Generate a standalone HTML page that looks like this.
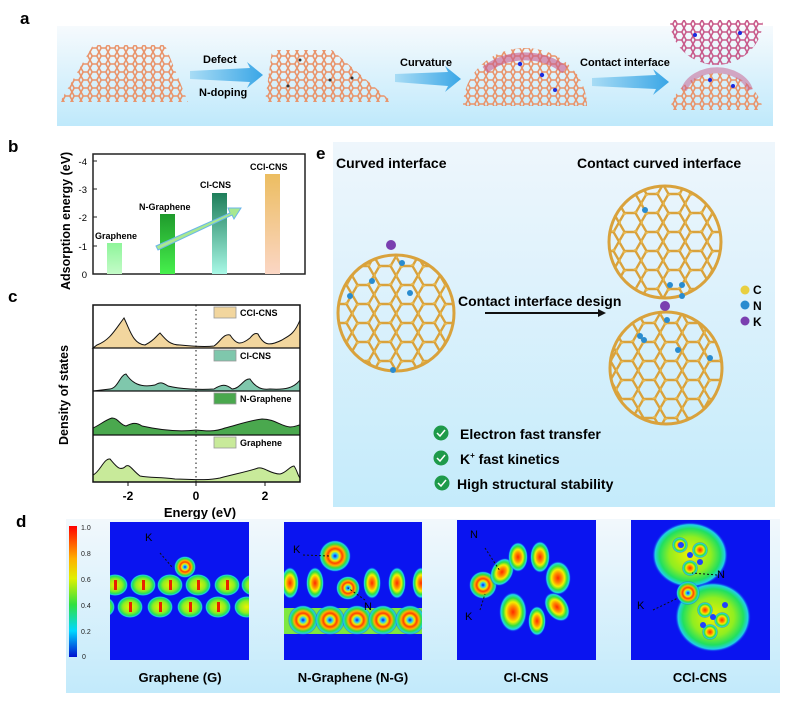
<!DOCTYPE html>
<html><head><meta charset="utf-8"><style>
html,body{margin:0;padding:0;background:#fff;}
svg{display:block;font-family:"Liberation Sans",Arial,sans-serif;}
</style></head><body>
<svg width="799" height="709" viewBox="0 0 799 709" xmlns="http://www.w3.org/2000/svg">
<defs>
<linearGradient id="bgA" x1="0" y1="0" x2="0" y2="1"><stop offset="0" stop-color="#f6fafd"/><stop offset="1" stop-color="#bfe9fb"/></linearGradient>
<linearGradient id="bgE" x1="0" y1="0" x2="0" y2="1"><stop offset="0" stop-color="#eef6fc"/><stop offset="1" stop-color="#c4ebfb"/></linearGradient>
<linearGradient id="bgD" x1="0" y1="0" x2="0" y2="1"><stop offset="0" stop-color="#f2f8fc"/><stop offset="1" stop-color="#c2eafb"/></linearGradient>
<linearGradient id="arr" x1="0" y1="0" x2="1" y2="0"><stop offset="0" stop-color="#a8dcf5"/><stop offset="1" stop-color="#3aa6e6"/></linearGradient>
<pattern id="hex" width="9" height="8" patternUnits="userSpaceOnUse"><path d="M0 4 L2.2 0 H6.8 L9 4 L6.8 8 H2.2 Z" fill="none" stroke="#e9936a" stroke-width="1.6"/></pattern>
<pattern id="hexm" width="9" height="8" patternUnits="userSpaceOnUse"><path d="M0 4 L2.2 0 H6.8 L9 4 L6.8 8 H2.2 Z" fill="none" stroke="#c85a8a" stroke-width="1.6"/></pattern>
<pattern id="ful" width="22" height="19" patternUnits="userSpaceOnUse"><path d="M0 9.5 L5.5 0 H16.5 L22 9.5 L16.5 19 H5.5 Z" fill="none" stroke="#d9a23c" stroke-width="2.4"/><circle cx="5.5" cy="0" r="2" fill="#e8b84e"/><circle cx="16.5" cy="19" r="2" fill="#e8b84e"/><circle cx="0" cy="9.5" r="2" fill="#e8b84e"/></pattern>
<radialGradient id="bl"><stop offset="0" stop-color="#ff2a00"/><stop offset="0.3" stop-color="#ff9000"/><stop offset="0.5" stop-color="#f4f000"/><stop offset="0.7" stop-color="#30e040"/><stop offset="0.87" stop-color="#20d8e8"/><stop offset="1" stop-color="#0a14f0" stop-opacity="0"/></radialGradient>
<radialGradient id="gr"><stop offset="0" stop-color="#f0f000"/><stop offset="0.55" stop-color="#90ee20"/><stop offset="0.8" stop-color="#20e060"/><stop offset="0.92" stop-color="#20d0e8"/><stop offset="1" stop-color="#0a14f0" stop-opacity="0"/></radialGradient>
<radialGradient id="rg"><stop offset="0" stop-color="#0a14f0"/><stop offset="0.15" stop-color="#20c8ff"/><stop offset="0.3" stop-color="#f0f000"/><stop offset="0.45" stop-color="#ff4000"/><stop offset="0.6" stop-color="#ffb000"/><stop offset="0.75" stop-color="#30e040"/><stop offset="0.9" stop-color="#20d0e8"/><stop offset="1" stop-color="#0a14f0" stop-opacity="0"/></radialGradient>
<linearGradient id="cb" x1="0" y1="0" x2="0" y2="1"><stop offset="0" stop-color="#ff0000"/><stop offset="0.25" stop-color="#ffb000"/><stop offset="0.4" stop-color="#e0f000"/><stop offset="0.6" stop-color="#30e040"/><stop offset="0.8" stop-color="#00d8ff"/><stop offset="1" stop-color="#0010d0"/></linearGradient>
<linearGradient id="b1" x1="0" y1="0" x2="0" y2="1"><stop offset="0" stop-color="#8ef59a"/><stop offset="1" stop-color="#c4fbc8"/></linearGradient>
<linearGradient id="b2" x1="0" y1="0" x2="0" y2="1"><stop offset="0" stop-color="#1f9a2c"/><stop offset="1" stop-color="#46f04c"/></linearGradient>
<linearGradient id="b3" x1="0" y1="0" x2="0" y2="1"><stop offset="0" stop-color="#1e7e5a"/><stop offset="1" stop-color="#a8f8e6"/></linearGradient>
<linearGradient id="b4" x1="0" y1="0" x2="0" y2="1"><stop offset="0" stop-color="#ecbd60"/><stop offset="1" stop-color="#fbd6c4"/></linearGradient>
<clipPath id="c1"><circle cx="396" cy="313" r="59"/></clipPath>
<clipPath id="c2"><circle cx="665" cy="242" r="57"/></clipPath>
<clipPath id="c3"><circle cx="666" cy="368" r="57"/></clipPath>
<clipPath id="i1"><rect x="110" y="522" width="139" height="138"/></clipPath>
<clipPath id="i2"><rect x="284" y="522" width="138" height="138"/></clipPath>
<clipPath id="i3"><rect x="457" y="520" width="139" height="140"/></clipPath>
<clipPath id="i4"><rect x="631" y="520" width="139" height="140"/></clipPath>
</defs>

<!-- panel a -->
<text x="20" y="24" font-size="17" font-weight="bold">a</text>
<rect x="57" y="26" width="716" height="100" fill="url(#bgA)"/>
<polygon points="93,45 165,45 188,102 60,102" fill="url(#hex)"/>
<polygon points="272,50 332,50 392,102 265,102" fill="url(#hex)"/>
<g fill="#333"><circle cx="300" cy="60" r="1.5"/><circle cx="330" cy="80" r="1.5"/><circle cx="288" cy="86" r="1.5"/><circle cx="352" cy="78" r="1.5"/></g>
<path d="M463,106 A62,58 0 0 1 587,106 Z" fill="url(#hex)"/>
<path d="M485,70 A62,58 0 0 1 565,70" fill="none" stroke="#c85a8a" stroke-width="8" opacity="0.6"/>
<path d="M670,20 L763,20 A47,45 0 0 1 716,65 A47,45 0 0 1 670,20 Z" fill="url(#hexm)"/>
<path d="M670,110 A47,43 0 0 1 763,110 Z" fill="url(#hex)"/>
<path d="M684,90 A34,26 0 0 1 750,90" fill="none" stroke="#c85a8a" stroke-width="6" opacity="0.5"/>
<g fill="#1a2ae0"><circle cx="520" cy="64" r="2.2"/><circle cx="542" cy="75" r="2.2"/><circle cx="555" cy="90" r="2"/><circle cx="695" cy="35" r="2"/><circle cx="740" cy="33" r="2"/><circle cx="710" cy="80" r="2"/><circle cx="733" cy="86" r="2"/></g>
<path d="M190,71 L250,68 L247,62 L263,75 L247,88 L250,82 L190,79 Z" fill="url(#arr)"/>
<path d="M395,74 L448,72 L445,66 L461,79 L445,92 L448,86 L395,82 Z" fill="url(#arr)"/>
<path d="M592,78 L656,75 L653,69 L669,82 L653,95 L656,89 L592,86 Z" fill="url(#arr)"/>
<text x="203" y="63" font-size="11" font-weight="bold">Defect</text>
<text x="199" y="96" font-size="11" font-weight="bold">N-doping</text>
<text x="400" y="66" font-size="11" font-weight="bold">Curvature</text>
<text x="580" y="66" font-size="11" font-weight="bold">Contact interface</text>

<!-- panel b -->
<text x="8" y="152" font-size="17" font-weight="bold">b</text>
<text transform="translate(70,290) rotate(-90)" font-size="12.5" font-weight="bold">Adsorption energy (eV)</text>
<rect x="93" y="154" width="212" height="120" fill="#fff" stroke="#222" stroke-width="1.5"/>
<g font-size="9.5" text-anchor="end">
<text x="87" y="278">0</text><text x="87" y="250">-1</text><text x="87" y="221">-2</text><text x="87" y="193">-3</text><text x="87" y="165">-4</text></g>
<g stroke="#222"><line x1="93" y1="246" x2="97" y2="246"/><line x1="93" y1="217" x2="97" y2="217"/><line x1="93" y1="189" x2="97" y2="189"/><line x1="93" y1="161" x2="97" y2="161"/></g>
<rect x="107" y="243" width="15" height="31" fill="url(#b1)"/>
<rect x="160" y="214" width="15" height="60" fill="url(#b2)"/>
<rect x="212" y="193" width="15" height="81" fill="url(#b3)"/>
<rect x="265" y="174" width="15" height="100" fill="url(#b4)"/>
<path d="M156,246 L230,213 L228,208 L241,208 L234,219 L232,215 L158,250 Z" fill="#a8e890" stroke="#6ab6ea" stroke-width="1"/>
<g font-size="9" font-weight="bold"><text x="95" y="239">Graphene</text><text x="139" y="210">N-Graphene</text><text x="200" y="188">Cl-CNS</text><text x="250" y="170">CCl-CNS</text></g>

<!-- panel c -->
<text x="8" y="302" font-size="17" font-weight="bold">c</text>
<text transform="translate(68,445) rotate(-90)" font-size="12.5" font-weight="bold">Density of states</text>
<g stroke="#111" stroke-width="1">
<path d="M93,348 L97,345 C110,340 115,330 124,318 C130,330 133,344 145,345 C155,340 156,336 160,333 C166,340 170,345 180,345 C190,346 205,347 214,346 C220,342 224,333 230,335 C236,344 240,346 250,338 C254,333 256,333 258,334 C264,346 270,346 282,340 C288,336 294,335 300,320 L300,348 Z" fill="#f2d69e"/>
<path d="M93,391 L110,389 C118,388 120,375 126,374 C132,383 140,388 155,385 C160,382 162,382 168,386 C180,389 200,390 214,389 C222,384 226,384 232,389 C240,389 244,378 250,379 C256,388 262,390 270,389 C285,390 294,388 300,380 L300,391 Z" fill="#7fc7ac"/>
<path d="M93,428 C100,425 105,420 112,418 C118,418 120,425 126,426 C132,423 136,422 142,426 C160,430 180,432 196,430 C205,431 215,432 225,428 C240,424 252,420 262,419 C275,419 280,426 290,427 C295,427 298,425 300,425 L300,435 L93,435 Z" fill="#4aa84e"/>
<path d="M93,475 C100,472 104,458 110,459 C116,466 120,472 126,466 C130,464 132,470 140,476 C150,478 160,477 175,479 C190,479 205,481 220,478 C235,474 250,471 258,468 C265,467 270,474 280,474 C286,473 290,466 294,466 C297,470 298,476 300,478 L300,482 L93,482 Z" fill="#c8ea9a"/>
</g>
<rect x="93" y="305" width="207" height="177" fill="none" stroke="#111" stroke-width="1.5"/>
<g stroke="#111" stroke-width="1.2"><line x1="93" y1="348" x2="300" y2="348"/><line x1="93" y1="391" x2="300" y2="391"/><line x1="93" y1="435" x2="300" y2="435"/></g>
<line x1="196" y1="305" x2="196" y2="482" stroke="#111" stroke-width="1" stroke-dasharray="1.5,3"/>
<g stroke-width="0.8" stroke="#999">
<rect x="214" y="307" width="22" height="11" fill="#f2d69e"/><rect x="214" y="350" width="22" height="11" fill="#7fc7ac"/><rect x="214" y="393" width="22" height="11" fill="#4aa84e"/><rect x="214" y="437" width="22" height="11" fill="#c8ea9a"/></g>
<g font-size="9" font-weight="bold"><text x="240" y="316">CCl-CNS</text><text x="240" y="359">Cl-CNS</text><text x="240" y="402">N-Graphene</text><text x="240" y="446">Graphene</text></g>
<g stroke="#111"><line x1="128" y1="482" x2="128" y2="486"/><line x1="196" y1="482" x2="196" y2="486"/><line x1="265" y1="482" x2="265" y2="486"/></g>
<g font-size="12" font-weight="bold" text-anchor="middle"><text x="128" y="500">-2</text><text x="196" y="500">0</text><text x="265" y="500">2</text><text x="200" y="517" font-size="13">Energy (eV)</text></g>

<!-- panel e -->
<text x="316" y="159" font-size="17" font-weight="bold">e</text>
<rect x="333" y="142" width="442" height="365" fill="url(#bgE)"/>
<text x="336" y="168" font-size="14" font-weight="bold">Curved interface</text>
<text x="577" y="168" font-size="14" font-weight="bold">Contact curved interface</text>
<g clip-path="url(#c1)"><rect x="330" y="250" width="140" height="130" fill="url(#ful)"/></g>
<circle cx="396" cy="313" r="58" fill="none" stroke="#d9a23c" stroke-width="3"/>
<g clip-path="url(#c2)"><rect x="600" y="180" width="130" height="125" fill="url(#ful)" transform="translate(3,4)"/></g>
<circle cx="665" cy="242" r="56" fill="none" stroke="#d9a23c" stroke-width="3"/>
<g clip-path="url(#c3)"><rect x="600" y="305" width="130" height="125" fill="url(#ful)"/></g>
<circle cx="666" cy="368" r="56" fill="none" stroke="#d9a23c" stroke-width="3"/>
<g fill="#2a8ccf"><circle cx="372" cy="281" r="3"/><circle cx="402" cy="263" r="3"/><circle cx="350" cy="296" r="3"/><circle cx="410" cy="293" r="3"/><circle cx="393" cy="370" r="3"/><circle cx="645" cy="210" r="3"/><circle cx="670" cy="285" r="3"/><circle cx="682" cy="285" r="3"/><circle cx="682" cy="296" r="3"/><circle cx="644" cy="340" r="3"/><circle cx="640" cy="336" r="3"/><circle cx="678" cy="350" r="3"/><circle cx="667" cy="320" r="3"/><circle cx="710" cy="358" r="3"/></g>
<circle cx="391" cy="245" r="5" fill="#7a3fb0"/>
<circle cx="665" cy="306" r="5" fill="#7a3fb0"/>
<text x="458" y="306" font-size="14" font-weight="bold">Contact interface design</text>
<line x1="485" y1="313" x2="600" y2="313" stroke="#111" stroke-width="2"/>
<polygon points="606,313 598,309 598,317" fill="#111"/>
<circle cx="745" cy="290" r="4.5" fill="#e8cf40"/><circle cx="745" cy="305" r="4.5" fill="#2a8ccf"/><circle cx="745" cy="321" r="4.5" fill="#7a3fb0"/>
<g font-size="12" font-weight="bold"><text x="753" y="294">C</text><text x="753" y="310">N</text><text x="753" y="326">K</text></g>
<g><circle cx="441" cy="433" r="7.5" fill="#1e9a4a"/><circle cx="441" cy="458" r="7.5" fill="#1e9a4a"/><circle cx="442" cy="483" r="7.5" fill="#1e9a4a"/></g>
<g fill="none" stroke="#fff" stroke-width="1.5"><path d="M437,433 l3,3 l5,-6"/><path d="M437,458 l3,3 l5,-6"/><path d="M438,483 l3,3 l5,-6"/></g>
<g font-size="14" font-weight="bold"><text x="460" y="439">Electron fast transfer</text><text x="460" y="464">K<tspan font-size="8" dy="-6">+</tspan><tspan dy="6"> fast  kinetics</tspan></text><text x="457" y="489">High structural stability</text></g>

<!-- panel d -->
<text x="16" y="527" font-size="17" font-weight="bold">d</text>
<rect x="66" y="519" width="714" height="174" fill="url(#bgD)"/>
<rect x="69" y="526" width="8" height="131" fill="url(#cb)"/>
<g font-size="7" fill="#222"><text x="81" y="530">1.0</text><text x="81" y="556">0.8</text><text x="81" y="582">0.6</text><text x="81" y="608">0.4</text><text x="81" y="634">0.2</text><text x="82" y="659">0</text></g>
<!-- img1 -->
<rect x="110" y="522" width="139" height="138" fill="#0a14f0"/>
<g clip-path="url(#i1)">
<g fill="url(#gr)"><ellipse cx="115" cy="585" rx="13" ry="11"/><ellipse cx="143" cy="585" rx="13" ry="11"/><ellipse cx="170" cy="585" rx="13" ry="11"/><ellipse cx="198" cy="585" rx="13" ry="11"/><ellipse cx="227" cy="585" rx="13" ry="11"/><ellipse cx="254" cy="585" rx="13" ry="11"/>
<ellipse cx="102" cy="607" rx="13" ry="11"/><ellipse cx="130" cy="607" rx="13" ry="11"/><ellipse cx="160" cy="607" rx="13" ry="11"/><ellipse cx="190" cy="607" rx="13" ry="11"/><ellipse cx="218" cy="607" rx="13" ry="11"/><ellipse cx="247" cy="607" rx="13" ry="11"/></g>
<g fill="#e82000"><rect x="114" y="580" width="3" height="10"/><rect x="142" y="580" width="3" height="10"/><rect x="169" y="580" width="3" height="10"/><rect x="197" y="580" width="3" height="10"/><rect x="226" y="580" width="3" height="10"/><rect x="129" y="602" width="3" height="10"/><rect x="159" y="602" width="3" height="10"/><rect x="189" y="602" width="3" height="10"/><rect x="217" y="602" width="3" height="10"/></g>
<circle cx="185" cy="567" r="11" fill="url(#rg)"/>
</g>
<text x="145" y="541" font-size="11">K</text>
<line x1="160" y1="553" x2="172" y2="567" stroke="#111" stroke-dasharray="2,2"/>
<!-- img2 -->
<rect x="284" y="522" width="138" height="138" fill="#0a14f0"/>
<g clip-path="url(#i2)">
<rect x="284" y="608" width="138" height="26" fill="#7ee840"/>
<g fill="url(#rg)"><circle cx="303" cy="620" r="15"/><circle cx="330" cy="620" r="15"/><circle cx="357" cy="620" r="15"/><circle cx="383" cy="620" r="15"/><circle cx="410" cy="620" r="15"/><circle cx="335" cy="556" r="16"/><circle cx="348" cy="588" r="12"/></g>
<g fill="url(#bl)"><ellipse cx="290" cy="583" rx="9" ry="16"/><ellipse cx="315" cy="583" rx="9" ry="16"/><ellipse cx="372" cy="583" rx="9" ry="16"/><ellipse cx="397" cy="583" rx="9" ry="16"/><ellipse cx="421" cy="583" rx="9" ry="16"/></g>
</g>
<text x="293" y="553" font-size="11">K</text><text x="364" y="610" font-size="11">N</text>
<line x1="303" y1="555" x2="330" y2="556" stroke="#111" stroke-dasharray="2,2"/>
<line x1="365" y1="600" x2="348" y2="588" stroke="#111" stroke-dasharray="2,2"/>
<!-- img3 -->
<rect x="457" y="520" width="139" height="140" fill="#0a14f0"/>
<g clip-path="url(#i3)">
<circle cx="483" cy="585" r="14" fill="url(#rg)"/>
<g fill="url(#bl)"><ellipse cx="502" cy="572" rx="11" ry="15" transform="rotate(30 502 572)"/><ellipse cx="518" cy="557" rx="10" ry="15"/><ellipse cx="540" cy="557" rx="10" ry="16"/><ellipse cx="558" cy="578" rx="13" ry="17"/><ellipse cx="557" cy="607" rx="11" ry="16" transform="rotate(-35 557 607)"/><ellipse cx="537" cy="621" rx="9" ry="15"/><ellipse cx="513" cy="612" rx="14" ry="20"/></g>
</g>
<text x="470" y="538" font-size="11">N</text><text x="465" y="620" font-size="11">K</text>
<line x1="485" y1="548" x2="500" y2="571" stroke="#111" stroke-dasharray="2,2"/>
<line x1="480" y1="610" x2="485" y2="594" stroke="#111" stroke-dasharray="2,2"/>
<!-- img4 -->
<rect x="631" y="520" width="139" height="140" fill="#0a14f0"/>
<g clip-path="url(#i4)">
<g fill="url(#gr)"><ellipse cx="690" cy="555" rx="38" ry="33"/><ellipse cx="713" cy="617" rx="38" ry="35"/></g>
<g fill="url(#bl)"><circle cx="680" cy="545" r="8"/><circle cx="700" cy="550" r="8"/><circle cx="690" cy="568" r="8"/><circle cx="705" cy="610" r="8"/><circle cx="722" cy="620" r="8"/><circle cx="710" cy="632" r="8"/></g>
<g fill="#2040ff"><circle cx="690" cy="555" r="3"/><circle cx="681" cy="545" r="3"/><circle cx="700" cy="562" r="3"/><circle cx="713" cy="617" r="3"/><circle cx="725" cy="605" r="3"/><circle cx="703" cy="625" r="3"/></g>
<circle cx="688" cy="593" r="12" fill="url(#rg)"/>
</g>
<text x="717" y="578" font-size="11">N</text><text x="637" y="609" font-size="11">K</text>
<line x1="717" y1="575" x2="692" y2="573" stroke="#111" stroke-dasharray="2,2"/>
<line x1="653" y1="610" x2="678" y2="598" stroke="#111" stroke-dasharray="2,2"/>
<g font-size="13" font-weight="bold" text-anchor="middle"><text x="180" y="682">Graphene (G)</text><text x="353" y="682">N-Graphene (N-G)</text><text x="526" y="682">Cl-CNS</text><text x="700" y="682">CCl-CNS</text></g>
</svg>
</body></html>
